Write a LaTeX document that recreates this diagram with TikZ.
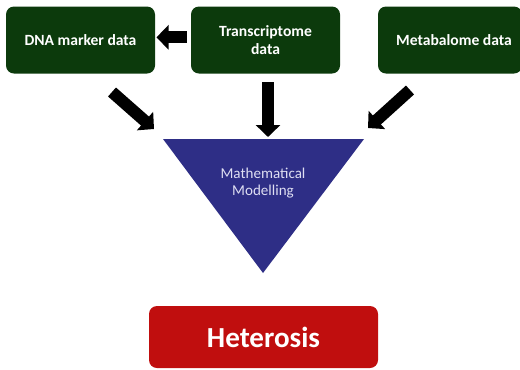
\documentclass[tikz,border=0pt]{standalone}
\usepackage{fontspec}
\setmainfont{Carlito}
\usetikzlibrary{arrows.meta}

\definecolor{databox}{RGB}{12,58,12}
\definecolor{modelfill}{RGB}{46,46,134}
\definecolor{modeltext}{RGB}{222,222,242}
\definecolor{hetfill}{RGB}{192,14,14}

\tikzset{every picture/.style={line width=0.75pt}}
\tikzset{
  databox/.style={fill=databox, text=white, rounded corners=6pt, align=center,
    minimum height=50.25pt, inner sep=0pt, font=\fontsize{11.7}{13.5}\selectfont\bfseries},
  blockarrow/.style={line width=9pt, -{Triangle[width=18pt,length=9pt]}},
}

\begin{document}
\begin{tikzpicture}[x=0.75pt,y=0.75pt,yscale=-1,xscale=1]
    \useasboundingbox (0,0) rectangle (520,369);

    %Shape: Rounded Rectangles (data)
    \node [databox, minimum width=111.75pt] (dna) at (80.5,40) {DNA marker data};
    \node [databox, minimum width=111.75pt] (trans) at (265.5,40) {Transcriptome\\data};
    \node [databox, minimum width=108pt] (meta) at (450,40) {\hspace*{6pt}Metabalome data};

    %Shape: Triangle
    \coordinate (tl) at (163,139);
    \coordinate (tr) at (364,139);
    \coordinate (tb) at (263,273);
    \fill [modelfill] (tl) -- (tr) -- (tb) -- cycle;
    % Text Node
    \node [text=modeltext, align=center, font=\fontsize{11.3}{13}\selectfont] (model) at (263,183) {Mathematical\\Modelling};

    %Shape: Rounded Rectangle (result)
    \node [fill=hetfill, text=white, rounded corners=6pt, minimum width=171.75pt, minimum height=46.5pt,
      inner sep=0pt, font=\fontsize{21.8}{24}\selectfont\bfseries] (het) at (263.5,337) {Heterosis};

    %Block Arrows
    \coordinate (a1s) at (112,92);
    \coordinate (a1e) at (154,129);
    \coordinate (a2s) at (268,82);
    \coordinate (a2e) at (268,137);
    \coordinate (a3s) at (410,90);
    \coordinate (a3e) at (368,128);
    \draw [blockarrow, shorten <=3pt, shorten >=0.75pt] ([yshift=-2pt]trans.west) -- ([yshift=-2pt]dna.east);
    \draw [blockarrow] (a1s) -- (a1e);
    \draw [blockarrow] (a2s) -- (a2e);
    \draw [blockarrow] (a3s) -- (a3e);

\end{tikzpicture}
\end{document}
